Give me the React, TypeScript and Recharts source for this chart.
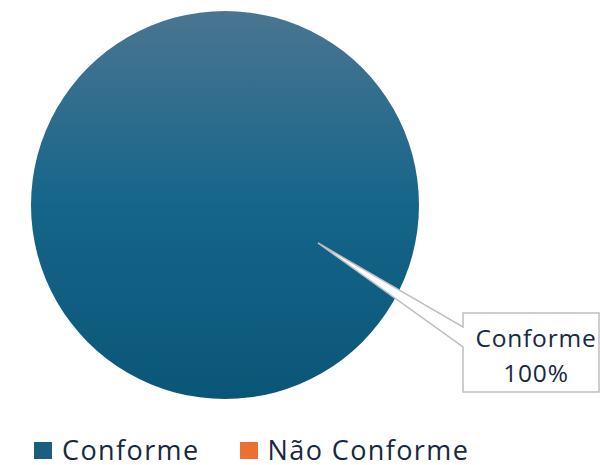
import { PieChart, Pie, Cell, Legend } from "recharts";

const categories = ["Conforme", "Não Conforme"];
const values = [100, 0];
const percentLabels = ["100%", "0%"];
const colors = ["url(#conformeGrad)", "#ed7033"];
const legendColors = ["#1a5f80", "#ed7033"];

const chartData = categories.map((name, i) => ({ name, value: values[i] }));

const textColor = "#172840";
const fontFamily = "'Open Sans', sans-serif";

// callout box for the big slice
const renderLabel = (props: any) => {
  const { cx, cy, index } = props;
  if (index !== 0) return null;
  const tipX = cx + 93;
  const tipY = cy + 38;
  const left = cx + 238;
  const top = cy + 108;
  const right = cx + 374;
  const bottom = cy + 187;
  const d = `M ${left},${top} L ${right},${top} L ${right},${bottom} L ${left},${bottom} L ${left},${cy + 142} L ${tipX},${tipY} L ${left},${cy + 122} Z`;
  const mid = (left + right) / 2 + 5;
  return (
    <g>
      <path d={d} fill="#fff" stroke="#bfbfbf" strokeWidth={1.5} strokeLinejoin="miter" />
      <text x={mid} y={cy + 142} textAnchor="middle" fill={textColor} fontSize={24.5} letterSpacing={0.8} fontFamily={fontFamily}>
        {categories[0]}
      </text>
      <text x={mid} y={cy + 177} textAnchor="middle" fill={textColor} fontSize={24.5} letterSpacing={0.8} fontFamily={fontFamily}>
        {percentLabels[0]}
      </text>
    </g>
  );
};

const renderLegend = () => (
  <div style={{ display: "flex", alignItems: "center", height: 26, fontFamily, fontSize: 27, lineHeight: "26px", color: textColor, letterSpacing: 1.4, overflow: "visible" }}>
    {categories.map((name, i) => (
      <div key={name} style={{ display: "flex", alignItems: "center", marginRight: 40 }}>
        <span style={{ display: "inline-block", width: 18, height: 17, background: legendColors[i], marginRight: 10 }} />
        <span style={{ whiteSpace: "nowrap" }}>{name}</span>
      </div>
    ))}
  </div>
);

export default function App() {
  return (
    <div style={{ position: "absolute", left: 0, top: 0, width: 600, height: 465, background: "#fff" }}>
      <PieChart width={600} height={465}>
        <defs>
          <linearGradient id="conformeGrad" x1="0" y1="0" x2="0" y2="1">
            <stop offset="0%" stopColor="#4a7591" />
            <stop offset="50%" stopColor="#15658a" />
            <stop offset="100%" stopColor="#0a5677" />
          </linearGradient>
        </defs>
        <Pie
          data={chartData}
          dataKey="value"
          nameKey="name"
          cx={220}
          cy={200}
          outerRadius={194}
          startAngle={90}
          endAngle={-270}
          stroke="none"
          label={renderLabel}
          labelLine={false}
          isAnimationActive={false}
        >
          {chartData.map((d, i) => (
            <Cell key={d.name} fill={colors[i]} />
          ))}
        </Pie>
        <Legend
          content={renderLegend}
          wrapperStyle={{ position: "absolute", left: 34, top: 437, width: 560, height: 26 }}
        />
      </PieChart>
    </div>
  );
}
